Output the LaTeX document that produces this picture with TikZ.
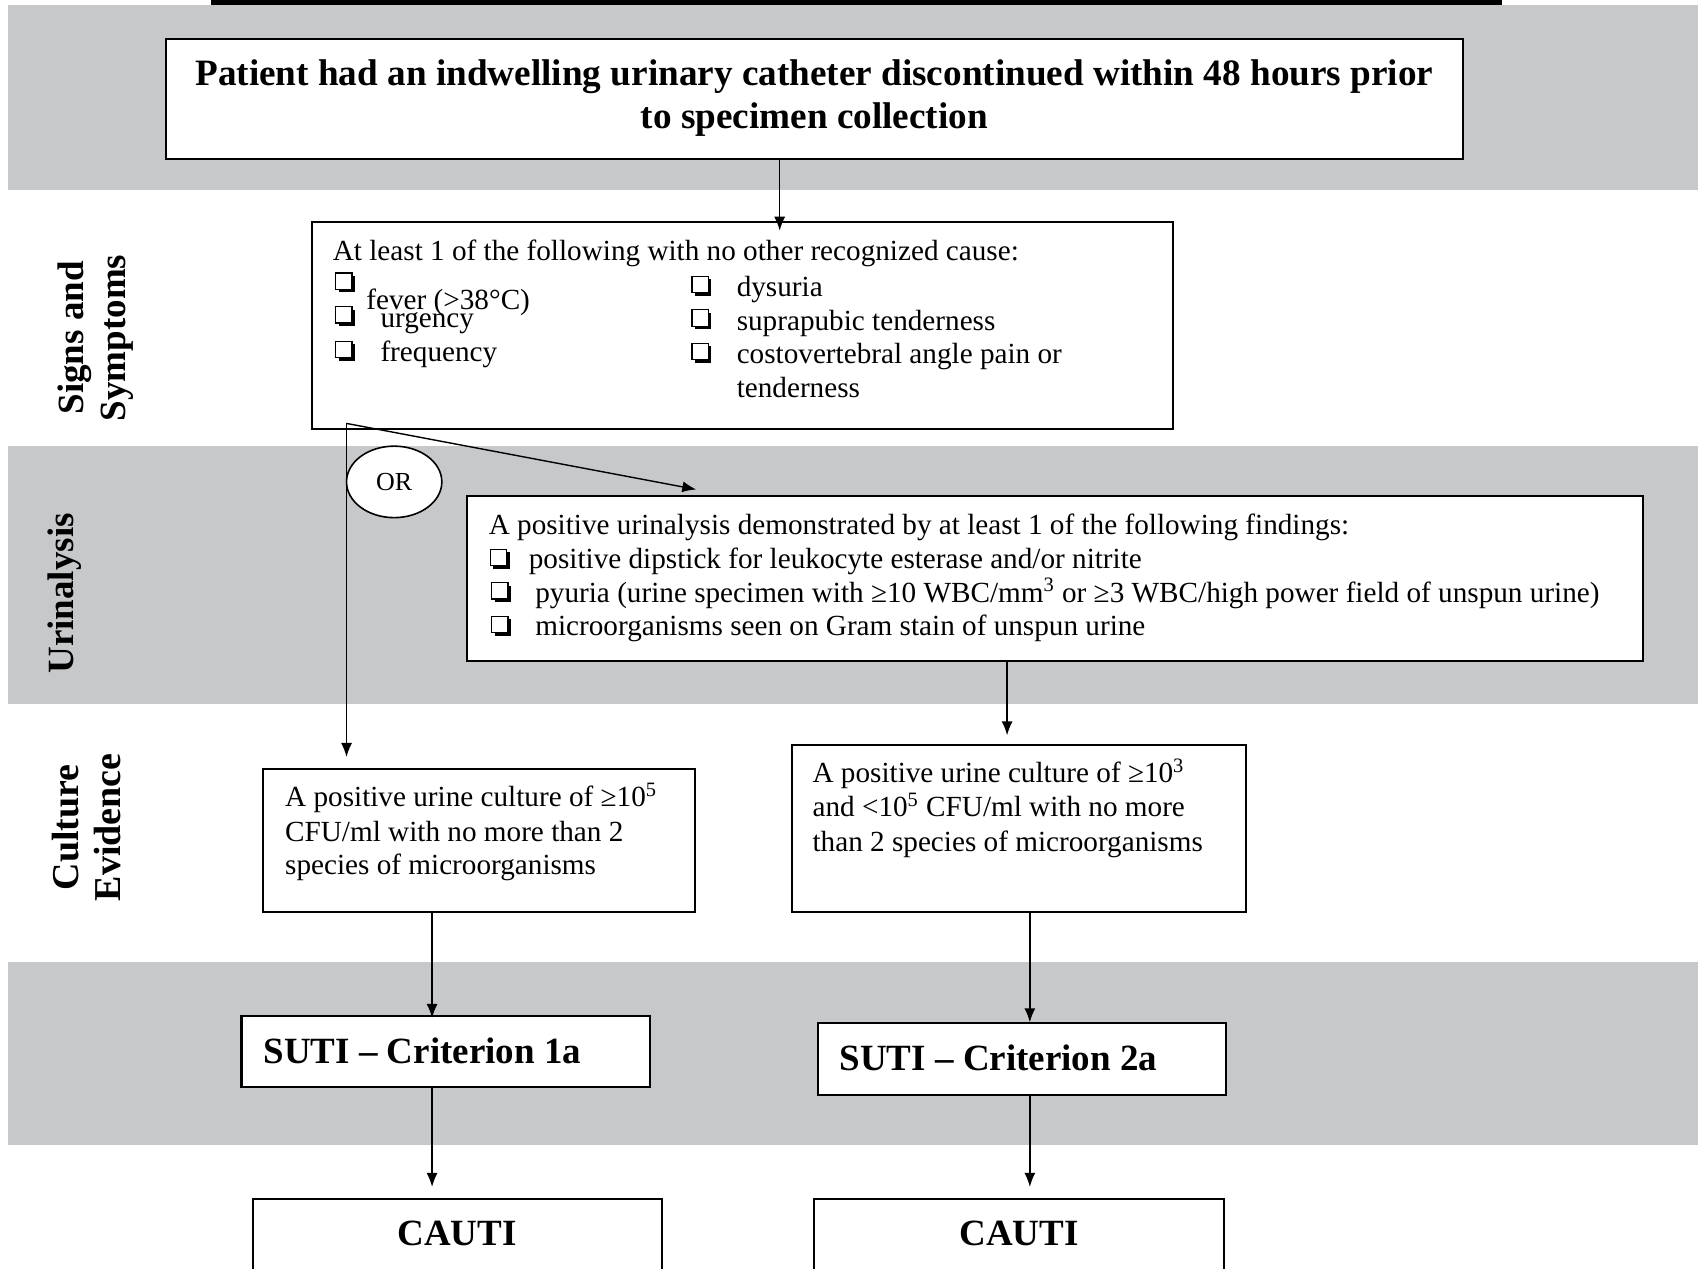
\documentclass[tikz,border=0pt]{standalone}
\usepackage{fontspec}
\setmainfont{Liberation Serif}
\usetikzlibrary{arrows.meta,shapes.geometric,calc,fit}
\definecolor{bandgray}{RGB}{199,200,202}
\newcommand{\cbx}{\tikz[baseline=0pt,x=1pt,y=1pt,line width=0.6pt]{\fill[black] (1.5,0) rectangle (9.7,8.2); \filldraw[fill=white,draw=black] (0,1.5) rectangle (8.2,9.7);}}
\begin{document}
\begin{tikzpicture}[x=0.5415pt,y=-0.5415pt,
  box/.style={draw,line width=1.05pt,fill=white,inner sep=0pt},
  arr/.style={-{Latex[length=7pt,width=5.5pt]},line width=0.7pt},
  txt/.style={anchor=base west,inner sep=0pt,font=\fontsize{14.6}{16.8}\selectfont},
  side/.style={rotate=90,align=center,inner sep=0pt,font=\bfseries\fontsize{18.5}{21}\selectfont},
  big/.style={anchor=base west,inner sep=0pt,font=\bfseries\fontsize{18.5}{22}\selectfont}]
\clip (0,0) rectangle (1568,1171);
\fill[white] (0,0) rectangle (1568,1171);
\fill[bandgray] (7,5) rectangle (1568,175);
\fill[bandgray] (7,412) rectangle (1568,650);
\fill[bandgray] (7,888) rectangle (1568,1057);
\fill[black] (195,0) rectangle (1387,4.5);

% side labels
\node[side] (lsig) at (88,312) {Signs and\\Symptoms};
\node[side] (lur) at (60,548) {Urinalysis};
\node[side,font=\bfseries\fontsize{19}{21}\selectfont] (lcul) at (80,764) {Culture\\Evidence};

% top box
\node[box,fit={(153,36)(1351,147)}] (top) {};
\node[font=\bfseries\fontsize{18.6}{21.8}\selectfont,align=center,inner sep=0pt] (toptxt) at (752,90.5)
  {Patient had an indwelling urinary catheter discontinued within 48 hours prior\\to specimen collection};

% signs and symptoms box
\node[box,fit={(288,205)(1083,396)}] (sig) {};
\node[txt] (sh) at (307,241) {At least 1 of the following with no other recognized cause:};
\node[txt] (sc1) at (309,270) {\cbx};
\node[txt] (st1) at (338,286) {fever (>38°C)};
\node[txt] (sc2) at (309,301) {\cbx};
\node[txt] (st2) at (351,302) {urgency};
\node[txt] (sc3) at (309,333) {\cbx};
\node[txt] (st3) at (351,334) {frequency};
\node[txt] (sc4) at (638,273) {\cbx};
\node[txt] (st4) at (680,274) {dysuria};
\node[txt] (sc5) at (638,304) {\cbx};
\node[txt] (st5) at (680,305) {suprapubic tenderness};
\node[txt] (sc6) at (638,335) {\cbx};
\node[txt] (st6) at (680,336) {costovertebral angle pain or};
\node[txt] (st7) at (680,367) {tenderness};

% urinalysis box
\node[box,fit={(431,458)(1517,610)}] (ua) {};
\node[txt] (uh) at (451,494) {A positive urinalysis demonstrated by at least 1 of the following findings:};
\node[txt] (uc1) at (452,525) {\cbx};
\node[txt] (ut1) at (488,525) {positive dipstick for leukocyte esterase and/or nitrite};
\node[txt] (uc2) at (453,556) {\cbx};
\node[txt] (ut2) at (494,556) {pyuria (urine specimen with ≥10 WBC/mm\textsuperscript{3} or ≥3 WBC/high power field of unspun urine)};
\node[txt] (uc3) at (453,587) {\cbx};
\node[txt] (ut3) at (494,587) {microorganisms seen on Gram stain of unspun urine};

% culture boxes
\node[box,fit={(243,710)(642,842)}] (cl) {};
\node[txt] (cl1) at (263,745) {A positive urine culture of ≥10\textsuperscript{5}};
\node[txt] (cl2) at (263,777) {CFU/ml with no more than 2};
\node[txt] (cl3) at (263,808) {species of microorganisms};
\node[box,fit={(731,688)(1151,842)}] (cr) {};
\node[txt] (cr1) at (750,723) {A positive urine culture of ≥10\textsuperscript{3}};
\node[txt] (cr2) at (750,754) {and <10\textsuperscript{5} CFU/ml with no more};
\node[txt] (cr3) at (750,786) {than 2 species of microorganisms};

% SUTI boxes
\node[box,fit={(223,938)(600,1004)}] (s1) {};
\node[big] (s1t) at (243,982) {SUTI – Criterion 1a};
\node[box,fit={(755,945)(1132,1011)}] (s2) {};
\node[big] (s2t) at (775,989) {SUTI – Criterion 2a};

% CAUTI boxes
\node[box,fit={(234,1107)(611,1195)}] (c1) {};
\node[font=\bfseries\fontsize{18.5}{22}\selectfont,inner sep=0pt] (c1t) at (422,1139) {CAUTI};
\node[box,fit={(752,1107)(1130,1195)}] (c2) {};
\node[font=\bfseries\fontsize{18.5}{22}\selectfont,inner sep=0pt] (c2t) at (941,1139) {CAUTI};

% connectors
\coordinate (a1) at (720,0);
\coordinate (split) at (320,391);
\coordinate (diagend) at (643,452);
\coordinate (a2) at (930,0);
\coordinate (a3) at (399,0);
\coordinate (a4) at (951,0);
\draw[arr] (top.south -| a1) -- ($(sig.north -| a1)+(0,9)$);
\draw[arr] (split) -- ($(cl.north -| split)+(0,-10)$);
\draw[arr] (split) -- (diagend);
\draw[arr] (ua.south -| a2) -- ($(cr.north -| a2)+(0,-8)$);
\draw[arr] (cl.south -| a3) -- ($(s1.north -| a3)+(0,3)$);
\draw[arr] (cr.south -| a4) -- (s2.north -| a4);
\draw[arr] (s1.south -| a3) -- ($(c1.north -| a3)+(0,-10)$);
\draw[arr] (s2.south -| a4) -- ($(c2.north -| a4)+(0,-10)$);

% OR ellipse
\node[draw,ellipse,fill=white,line width=0.8pt,inner sep=0pt,minimum width=88*0.5415pt,minimum height=66*0.5415pt,font=\fontsize{13}{16}\selectfont] (or) at (364,445) {OR};
\end{tikzpicture}
\end{document}
